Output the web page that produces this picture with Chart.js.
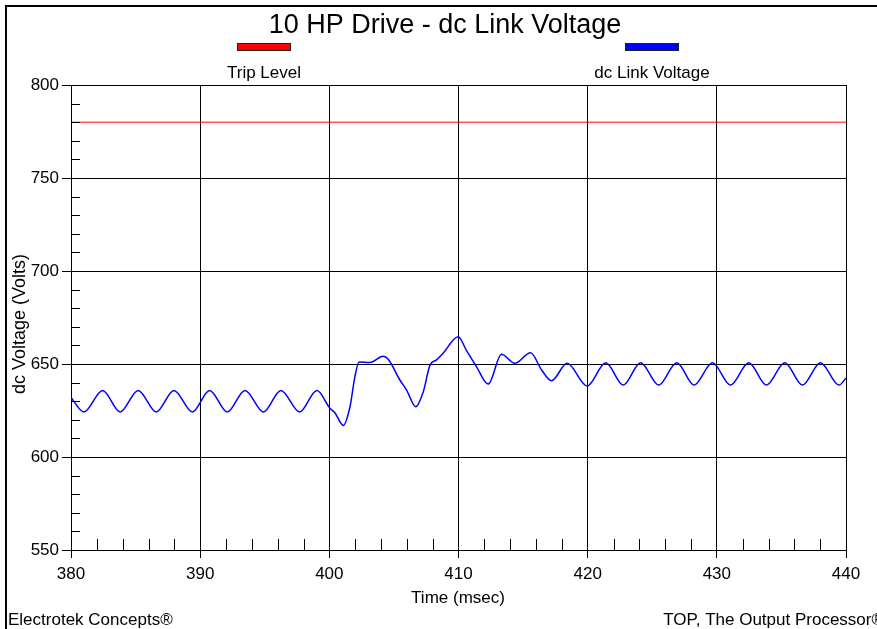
<!DOCTYPE html>
<html>
<head>
<meta charset="utf-8">
<script src="https://cdn.jsdelivr.net/npm/chart.js@4.4.1/dist/chart.umd.min.js"></script>
<style>
  html, body { margin: 0; padding: 0; background: #ffffff; }
  #wrap { width: 877px; height: 629px; position: relative; }
  canvas { display: block; }
</style>
</head>
<body>
<div id="wrap"><canvas id="c" width="877" height="629"></canvas></div>
<script>
// ---- chart data ----
const chartTitle = "10 HP Drive - dc Link Voltage";
const xAxisTitle = "Time (msec)";
const yAxisTitle = "dc Voltage (Volts)";
const footerLeft = "Electrotek Concepts®";
const footerRight = "TOP, The Output Processor®";

const seriesNames = ["Trip Level", "dc Link Voltage"];
const seriesColors = ["#ff0000", "#0000ff"];

const xRange = [380, 440];
const yRange = [550, 800];
const xMajorStep = 10;
const yMajorStep = 50;
const xMinorStep = 2;
const yMinorStep = 10;

const tripLevelTime = [380, 440];
const tripLevelVolts = [780, 780];

const timeMs = [
  380.0, 381.0, 382.45, 383.8, 385.2, 386.6, 387.97, 389.4, 390.73, 392.1,
  393.47, 394.9, 396.25, 397.7, 399.04, 400.05, 400.43, 401.08, 401.6, 401.98,
  402.3, 403.14, 404.17, 404.56, 405.46, 405.98, 406.7, 407.27, 407.8, 408.3,
  408.8, 409.97, 410.6, 411.4, 412.3, 413.33, 414.36, 415.58, 416.43, 417.2,
  418.41, 419.96, 421.4, 422.75, 424.1, 425.5, 426.9, 428.24, 429.66, 431.06,
  432.47, 433.84, 435.26, 436.63, 438.02, 439.46, 440.0
];
const dcLinkVolts = [
  632.0, 624.2, 635.8, 624.2, 635.8, 624.2, 635.8, 624.2, 635.8, 624.2,
  635.8, 624.2, 635.8, 624.2, 635.8, 626.2, 623.8, 617.0, 627.0, 643.2,
  651.1, 650.8, 654.1, 652.5, 641.4, 636.0, 627.0, 635.0, 649.5, 652.2,
  655.7, 664.7, 657.5, 648.5, 639.2, 655.2, 650.4, 656.1, 646.8, 641.0,
  650.4, 638.2, 650.7, 638.7, 650.7, 638.7, 650.7, 638.7, 650.7, 638.7,
  650.7, 638.7, 650.7, 638.7, 650.7, 638.7, 642.5
];

// ---- build chart ----
const FONT = "'Liberation Sans', Arial, sans-serif";

function toPoints(xs, ys) { return xs.map((x, i) => ({ x: x, y: ys[i] })); }

const decorPlugin = {
  id: 'decor',
  beforeDraw(chart) {
    const ctx = chart.ctx;
    ctx.save();
    ctx.fillStyle = '#ffffff';
    ctx.fillRect(0, 0, chart.width, chart.height);
    ctx.restore();
  },
  afterDraw(chart) {
    const ctx = chart.ctx;
    const xs = chart.scales.x, ys = chart.scales.y;
    const area = chart.chartArea;
    ctx.save();
    // minor ticks (y: inward from left axis; x: upward from bottom axis)
    ctx.strokeStyle = '#000000';
    ctx.lineWidth = 1;
    ctx.beginPath();
    for (let v = yRange[0] + yMinorStep; v < yRange[1]; v += yMinorStep) {
      if (v % yMajorStep === 0) continue;
      const py = Math.round(ys.getPixelForValue(v)) + 0.5;
      ctx.moveTo(area.left, py);
      ctx.lineTo(area.left + 9, py);
    }
    for (let t = xRange[0] + xMinorStep; t < xRange[1]; t += xMinorStep) {
      if (t % xMajorStep === 0) continue;
      const px = Math.round(xs.getPixelForValue(t)) + 0.5;
      ctx.moveTo(px, area.bottom);
      ctx.lineTo(px, area.bottom - 11);
    }
    ctx.stroke();

    // outer frame
    ctx.lineWidth = 2;
    ctx.strokeRect(6, 6, 1000, 1000);

    // title
    ctx.fillStyle = '#000000';
    ctx.textAlign = 'center';
    ctx.textBaseline = 'alphabetic';
    ctx.font = "27px " + FONT;
    ctx.fillText(chartTitle, 445, 33);

    // legend (box above label)
    const legendCenters = [264, 652];
    ctx.font = "17px " + FONT;
    chart.data.datasets.forEach((ds, i) => {
      const cx = legendCenters[i];
      ctx.fillStyle = ds.borderColor;
      ctx.fillRect(cx - 27, 43, 54, 8);
      ctx.lineWidth = 1;
      ctx.strokeStyle = '#202020';
      ctx.strokeRect(cx - 27 + 0.5, 43 + 0.5, 53, 7);
      ctx.fillStyle = '#000000';
      ctx.fillText(ds.label, cx, 78);
    });

    // axis titles
    ctx.font = "17px " + FONT;
    ctx.fillText(xAxisTitle, 458, 603);
    ctx.save();
    ctx.font = "18px " + FONT;
    ctx.translate(25, 324);
    ctx.rotate(-Math.PI / 2);
    ctx.fillText(yAxisTitle, 0, 0);
    ctx.restore();

    // footers
    ctx.textAlign = 'left';
    ctx.fillText(footerLeft, 8, 625);
    ctx.textAlign = 'right';
    ctx.fillText(footerRight, 884, 625);
    ctx.restore();
  }
};

new Chart(document.getElementById('c'), {
  type: 'line',
  data: {
    datasets: [
      {
        label: seriesNames[0],
        data: toPoints(tripLevelTime, tripLevelVolts),
        borderColor: seriesColors[0],
        backgroundColor: seriesColors[0],
        borderWidth: 1,
        pointRadius: 0,
        fill: false
      },
      {
        label: seriesNames[1],
        data: toPoints(timeMs, dcLinkVolts),
        borderColor: seriesColors[1],
        backgroundColor: seriesColors[1],
        borderWidth: 1.5,
        pointRadius: 0,
        fill: false,
        cubicInterpolationMode: 'monotone'
      }
    ]
  },
  options: {
    responsive: false,
    animation: false,
    devicePixelRatio: 1,
    layout: { padding: { left: 0, right: 31, top: 85, bottom: 0 } },
    plugins: {
      legend: { display: false },
      title: { display: false },
      tooltip: { enabled: false }
    },
    scales: {
      x: {
        type: 'linear',
        min: xRange[0],
        max: xRange[1],
        afterFit(scale) { scale.height = 79; },
        ticks: {
          stepSize: xMajorStep,
          color: '#000000',
          font: { family: FONT, size: 17 },
          padding: 6,
          maxRotation: 0,
          autoSkip: false
        },
        grid: {
          color: '#000000',
          lineWidth: 1,
          drawTicks: true,
          tickLength: 8,
          tickColor: '#000000'
        },
        border: { display: true, color: '#000000', width: 1 }
      },
      y: {
        type: 'linear',
        min: yRange[0],
        max: yRange[1],
        afterFit(scale) { scale.width = 71; },
        ticks: {
          stepSize: yMajorStep,
          color: '#000000',
          font: { family: FONT, size: 17 },
          padding: 3,
          autoSkip: false
        },
        grid: {
          color: '#000000',
          lineWidth: 1,
          drawTicks: true,
          tickLength: 9,
          tickColor: '#000000'
        },
        border: { display: true, color: '#000000', width: 1 }
      }
    }
  },
  plugins: [decorPlugin]
});
</script>
</body>
</html>
